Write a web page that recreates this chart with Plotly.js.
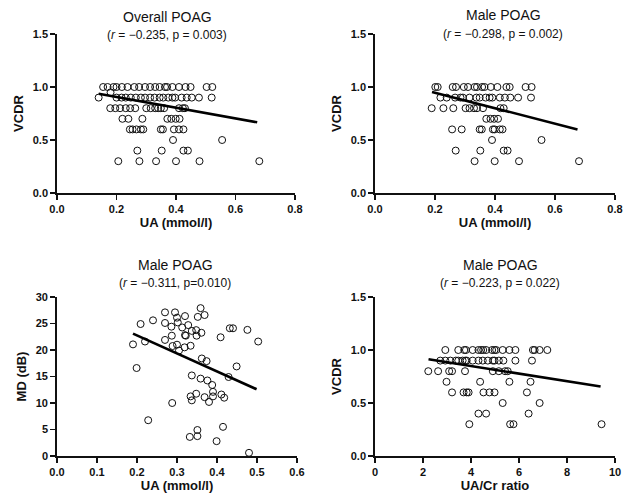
<!DOCTYPE html>
<html><head><meta charset="utf-8">
<script src="https://cdn.plot.ly/plotly-3.0.1.min.js"></script>
<style>html,body{margin:0;padding:0;background:#fff;}#chart{width:630px;height:498px;}</style>
</head><body><div id="chart"></div>
<script>
// Panel 1: Overall POAG, VCDR vs UA
const p1x = [0.155,0.17,0.19,0.20,0.218,0.237,0.26,0.276,0.296,0.313,0.33,0.345,0.363,0.37,0.388,0.41,0.432,0.449,0.503,0.522,
  0.18,
  0.14,0.20,0.217,0.231,0.248,0.265,0.282,0.296,0.313,0.328,0.345,0.357,0.374,0.388,0.397,0.419,0.436,0.453,0.477,0.52,
  0.179,0.196,0.212,0.231,0.246,0.263,0.30,0.315,0.33,0.34,0.349,0.36,0.41,0.423,0.43,
  0.22,0.24,0.287,0.371,0.384,0.399,0.412,
  0.245,0.254,0.267,0.282,0.29,0.349,0.356,0.393,0.41,0.425,
  0.39,0.555,
  0.27,0.352,0.425,0.44,
  0.206,0.277,0.333,0.40,0.479,0.68];
const p1y = [1,1,1,1,1,1,1,1,1,1,1,1,1,1,1,1,1,1,1,1,
  0.95,
  0.9,0.9,0.9,0.9,0.9,0.9,0.9,0.9,0.9,0.9,0.9,0.9,0.9,0.9,0.9,0.9,0.9,0.9,0.9,0.9,
  0.8,0.8,0.8,0.8,0.8,0.8,0.8,0.8,0.8,0.8,0.8,0.8,0.8,0.8,0.8,
  0.7,0.7,0.7,0.7,0.7,0.7,0.7,
  0.6,0.6,0.6,0.6,0.6,0.6,0.6,0.6,0.6,0.6,
  0.5,0.5,
  0.4,0.4,0.4,0.4,
  0.3,0.3,0.3,0.3,0.3,0.3];
const p1fitX = [0.14, 0.673];
const p1fitY = [0.937, 0.667];

// Panel 2: Male POAG, VCDR vs UA
const p2x = [0.201,0.209,0.259,0.27,0.296,0.31,0.332,0.34,0.357,0.365,0.386,0.408,0.438,0.449,0.502,0.522,
  0.218,0.239,0.267,0.285,0.293,0.315,0.338,0.349,0.369,0.382,0.391,0.416,0.433,0.451,0.477,0.52,
  0.189,0.228,0.261,0.302,0.315,0.33,0.34,0.36,0.418,0.429,
  0.371,0.385,0.397,0.41,
  0.257,0.289,0.349,0.356,0.393,0.399,0.416,0.425,
  0.39,0.555,
  0.269,0.351,0.429,0.442,
  0.332,0.399,0.48,0.68];
const p2y = [1,1,1,1,1,1,1,1,1,1,1,1,1,1,1,1,
  0.9,0.9,0.9,0.9,0.9,0.9,0.9,0.9,0.9,0.9,0.9,0.9,0.9,0.9,0.9,0.9,
  0.8,0.8,0.8,0.8,0.8,0.8,0.8,0.8,0.8,0.8,
  0.7,0.7,0.7,0.7,
  0.6,0.6,0.6,0.6,0.6,0.6,0.6,0.6,
  0.5,0.5,
  0.4,0.4,0.4,0.4,
  0.3,0.3,0.3,0.3];
const p2fitX = [0.19, 0.675];
const p2fitY = [0.953, 0.6];

// Panel 3: Male POAG, MD vs UA
const p3x = [0.19,0.199,0.209,0.22,0.228,0.24,0.27,0.27,0.27,0.286,0.287,0.288,0.289,0.295,0.30,0.302,0.30,0.305,
  0.313,0.32,0.32,0.322,0.319,0.328,0.334,0.332,0.337,0.337,0.334,0.337,0.348,0.349,0.352,0.359,0.361,0.362,
  0.359,0.348,0.351,0.351,0.369,0.374,0.376,0.369,0.38,0.388,0.39,0.39,0.399,0.409,0.411,0.415,0.418,0.429,
  0.432,0.44,0.449,0.476,0.48,0.503];
const p3y = [21.06,16.6,24.9,21.6,6.75,25.6,27.1,25.1,21.9,24.4,22.7,10.0,20.75,27.1,26.1,25.2,21.0,19.9,
  24.25,26.4,22.8,22.7,20.5,24.7,20.8,3.6,23.6,15.2,11.25,10.5,23.75,22.7,26.25,27.9,23.25,18.4,
  14.6,11.75,4.9,3.75,26.6,17.9,14.25,11.1,10.2,13.4,12.1,11.25,2.8,22.4,11.6,5.5,11.0,14.9,
  24.1,24.1,16.9,23.8,0.6,21.6];
const p3fitX = [0.19, 0.499];
const p3fitY = [23.1, 12.6];

// Panel 4: Male POAG, VCDR vs UA/Cr ratio
const p4x = [2.93,3.47,3.72,3.79,4.07,4.31,4.42,4.51,4.63,4.88,4.98,5.05,5.32,5.6,5.85,6.58,6.65,6.86,7.18,
  2.72,2.93,3.14,3.37,3.47,3.65,3.76,3.82,4.07,4.31,4.49,4.7,4.91,4.98,5.16,5.35,5.85,6.54,
  2.22,2.63,3.09,3.21,3.75,4.91,5.16,5.42,5.53,
  2.98,4.38,5.6,6.48,
  3.21,3.69,3.82,3.9,4.52,4.77,4.98,6.33,
  5.32,6.86,
  4.31,4.63,6.4,
  3.93,5.63,5.77,9.44];
const p4y = [1,1,1,1,1,1,1,1,1,1,1,1,1,1,1,1,1,1,1,
  0.9,0.9,0.9,0.9,0.9,0.9,0.9,0.9,0.9,0.9,0.9,0.9,0.9,0.9,0.9,0.9,0.9,0.9,
  0.8,0.8,0.8,0.8,0.8,0.8,0.8,0.8,0.8,
  0.7,0.7,0.7,0.7,
  0.6,0.6,0.6,0.6,0.6,0.6,0.6,0.6,
  0.5,0.5,
  0.4,0.4,0.4,
  0.3,0.3,0.3,0.3];
const p4fitX = [2.23, 9.4];
const p4fitY = [0.912, 0.655];

const panelTitles = ["Overall POAG", "Male POAG", "Male POAG", "Male POAG"];
const panelStats = ["(<i>r</i> = \u22120.235, p = 0.003)", "(<i>r</i> = \u22120.298, p = 0.002)",
                    "(<i>r</i> = \u22120.311, p=0.010)", "(<i>r</i> = \u22120.223, p = 0.022)"];
const xTitles = ["UA (mmol/l)", "UA (mmol/l)", "UA (mmol/l)", "UA/Cr ratio"];
const yTitles = ["VCDR", "VCDR", "MD (dB)", "VCDR"];

const FONT = "Arial, 'Liberation Sans', sans-serif";
const W = 630, H = 498;
function px2x(p){ return p / W; }
function px2y(p){ return 1 - p / H; }

const marker = {symbol: 'circle-open', size: 7, color: '#111', line: {width: 1, color: '#111'}};
const fitLine = {color: '#000', width: 2.6};

function sc(x, y, i){
  const s = i === 1 ? '' : String(i);
  return {x: x, y: y, type: 'scatter', mode: 'markers', marker: marker, xaxis: 'x' + s, yaxis: 'y' + s, hoverinfo: 'none', cliponaxis: false};
}
function ln(x, y, i){
  const s = i === 1 ? '' : String(i);
  return {x: x, y: y, type: 'scatter', mode: 'lines', line: fitLine, xaxis: 'x' + s, yaxis: 'y' + s, hoverinfo: 'none'};
}

const data = [
  sc(p1x, p1y, 1), ln(p1fitX, p1fitY, 1),
  sc(p2x, p2y, 2), ln(p2fitX, p2fitY, 2),
  sc(p3x, p3y, 3), ln(p3fitX, p3fitY, 3),
  sc(p4x, p4y, 4), ln(p4fitX, p4fitY, 4)
];

const tickFont = {family: FONT, size: 11, color: '#111', weight: 'bold'};
const titleFont = {family: FONT, size: 13, color: '#111', weight: 'bold'};

function xa(domainPx, range, dtick, fmt, title, anchor){
  return {domain: [px2x(domainPx[0]), px2x(domainPx[1])], range: range, dtick: dtick, tick0: 0, tickformat: fmt,
    showline: true, linewidth: 1.8, linecolor: '#111', ticks: 'outside', ticklen: 5, tickwidth: 1.8, tickcolor: '#111',
    showgrid: false, zeroline: false, tickfont: tickFont, anchor: anchor, fixedrange: true,
    title: {text: title, font: titleFont, standoff: 4}};
}
function ya(domainPx, range, dtick, fmt, title, anchor){
  return {domain: [px2y(domainPx[1]), px2y(domainPx[0])], range: range, dtick: dtick, tick0: 0, tickformat: fmt,
    showline: true, linewidth: 1.8, linecolor: '#111', ticks: 'outside', ticklen: 5, tickwidth: 1.8, tickcolor: '#111',
    showgrid: false, zeroline: false, tickfont: tickFont, anchor: anchor, fixedrange: true,
    title: {text: title, font: titleFont, standoff: 6}};
}

const layout = {
  width: W, height: H, margin: {l: 0, r: 0, t: 0, b: 0},
  paper_bgcolor: '#fff', plot_bgcolor: 'rgba(0,0,0,0)', showlegend: false,
  font: {family: FONT, color: '#111'},
  xaxis:  xa([57, 295], [0, 0.8], 0.2, '.1f', xTitles[0], 'y'),
  yaxis:  ya([34, 193], [0, 1.5], 0.5, '.1f', yTitles[0], 'x'),
  xaxis2: xa([375, 615], [0, 0.8], 0.2, '.1f', xTitles[1], 'y2'),
  yaxis2: ya([34, 193], [0, 1.5], 0.5, '.1f', yTitles[1], 'x2'),
  xaxis3: xa([57, 297], [0, 0.6], 0.1, '.1f', xTitles[2], 'y3'),
  yaxis3: ya([297, 456], [0, 30], 5, 'd', yTitles[2], 'x3'),
  xaxis4: xa([375, 615], [0, 10], 2, 'd', xTitles[3], 'y4'),
  yaxis4: ya([297, 456], [0, 1.5], 0.5, '.1f', yTitles[3], 'x4'),
  annotations: []
};

const titlePos = [[167, 17, 35], [503, 15, 34], [175, 265, 283], [500, 265, 283]];
for (let i = 0; i < 4; i++) {
  layout.annotations.push({xref: 'paper', yref: 'paper', x: px2x(titlePos[i][0]), y: px2y(titlePos[i][1]),
    xanchor: 'center', yanchor: 'middle', showarrow: false, text: panelTitles[i],
    font: {family: FONT, size: 14, color: '#111'}});
  layout.annotations.push({xref: 'paper', yref: 'paper', x: px2x(titlePos[i][0]), y: px2y(titlePos[i][2]),
    xanchor: 'center', yanchor: 'middle', showarrow: false, text: panelStats[i],
    font: {family: FONT, size: 12, color: '#111'}});
}

Plotly.newPlot('chart', data, layout, {staticPlot: true, displayModeBar: false});
</script></body></html>
